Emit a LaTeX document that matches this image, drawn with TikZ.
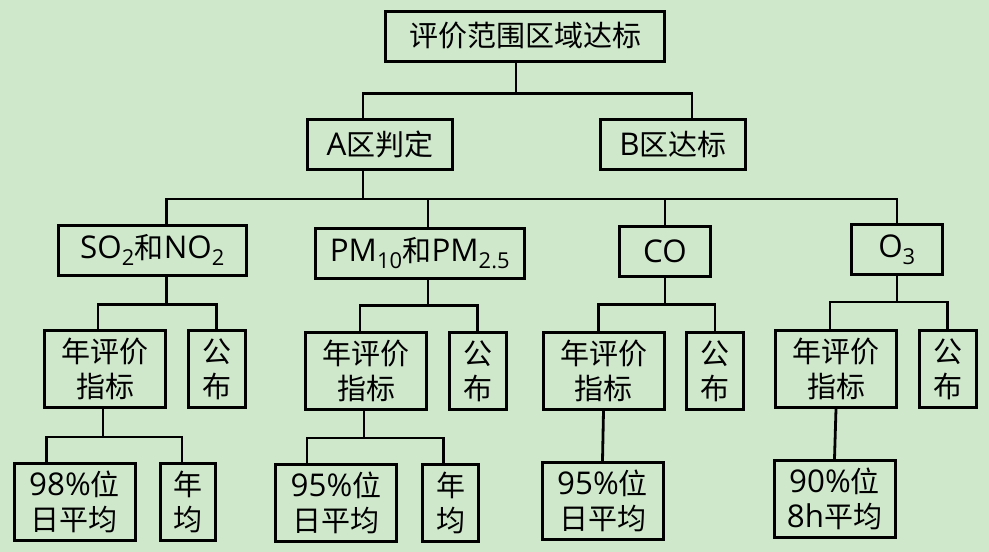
\documentclass[tikz,border=0pt]{standalone}
\usepackage{fontspec}
\setmainfont{Open Sans}[Scale=1.08]
\newfontfamily\cjk{Noto Sans CJK SC}
\newcommand\lat[1]{{\rmfamily #1}}
\definecolor{paper}{RGB}{207,232,204}

\begin{document}
\begin{tikzpicture}[
  x=1pt, y=-1pt,
  box/.style={draw, line width=3pt, inner sep=0pt, align=center,
    font=\fontsize{29}{35}\selectfont\cjk},
  head/.style={box, minimum height=50pt},
  pair/.style={box, minimum width=121pt, minimum height=77pt},
  slim/.style={box, minimum width=57pt, minimum height=77pt},
  link/.style={draw, line width=2.8pt}
]
\fill[paper] (0,0) rectangle (989,552);
\useasboundingbox (0,0) rectangle (989,552);

\node[head, minimum width=279pt] (top) at (525,36) {评价范围区域达标};
\node[head, minimum width=145pt] (A) at (380,144.5) {\lat{A}区判定};
\node[head, minimum width=145pt] (B) at (673,144) {\lat{B}区达标};

\node[head, minimum width=188pt] (so) at (152.5,250) {\lat{SO\textsubscript{2}}和\lat{NO\textsubscript{2}}};
\node[head, minimum width=209pt] (pm) at (420,253) {\lat{PM\textsubscript{10}}和\lat{PM\textsubscript{2.5}}};
\node[head, minimum width=91pt] (co) at (665,251) {\lat{CO}};
\node[head, minimum width=91pt] (oz) at (897,249.5) {\lat{O\textsubscript{3}}};

\node[pair] (soyear) at (105,369) {年评价\\指标};
\node[slim] (sopub) at (216.5,369) {公\\布};
\node[pair] (sopct) at (74.5,501.5) {\lat{98\%}位\\日平均};
\node[slim, minimum width=55pt] (soavg) at (188,501.5) {年\\均};

\node[pair] (pmyear) at (366,371) {年评价\\指标};
\node[slim] (pmpub) at (477.5,371) {公\\布};
\node[pair] (pmpct) at (336,502.5) {\lat{95\%}位\\日平均};
\node[slim, minimum width=56pt] (pmavg) at (450.5,502.5) {年\\均};

\node[pair] (coyear) at (603.5,371) {年评价\\指标};
\node[slim] (copub) at (715,371) {公\\布};
\node[pair] (copct) at (602.5,501) {\lat{95\%}位\\日平均};

\node[pair] (ozyear) at (836,369) {年评价\\指标};
\node[slim] (ozpub) at (947.5,369) {公\\布};
\node[pair] (ozpct) at (834.5,499) {\lat{90\%}位\\\lat{8h}平均};

\draw[link] ([xshift=-9pt]top.south) -- ++(0,31) -| ([xshift=-17pt]A.north);
\draw[link] ([xshift=-9pt]top.south) -- ++(0,31) -| ([xshift=19pt]B.north);

\draw[link] ([xshift=-17pt]A.south) -- ++(0,28) -| ([xshift=14pt]so.north);
\draw[link] ([xshift=-17pt]A.south) -- ++(0,28) -| ([xshift=8pt]pm.north);
\draw[link] ([xshift=-17pt]A.south) -- ++(0,28) -| (co.north);
\draw[link] ([xshift=-17pt]A.south) -- ++(0,28) -| (oz.north);

\draw[link] ([xshift=14pt]so.south) -- ++(0,28) -| ([xshift=-7pt]soyear.north);
\draw[link] ([xshift=14pt]so.south) -- ++(0,28) -| (sopub.north);
\draw[link] ([xshift=-2pt]soyear.south) -- ++(0,28) -| ([xshift=-28pt]sopct.north);
\draw[link] ([xshift=-2pt]soyear.south) -- ++(0,28) -| ([xshift=-6pt]soavg.north);

\draw[link] ([xshift=8pt]pm.south) -- ++(0,26) -| ([xshift=-6pt]pmyear.north);
\draw[link] ([xshift=8pt]pm.south) -- ++(0,26) -| (pmpub.north);
\draw[link] ([xshift=-2pt]pmyear.south) -- ++(0,27) -| ([xshift=-29pt]pmpct.north);
\draw[link] ([xshift=-2pt]pmyear.south) -- ++(0,27) -| ([xshift=-7pt]pmavg.north);

\draw[link] (co.south) -- ++(0,27) -| ([xshift=-5pt]coyear.north);
\draw[link] (co.south) -- ++(0,27) -| (copub.north);
\draw[link] (coyear.south) -- (copct.north);

\draw[link] (oz.south) -- ++(0,26) -| ([xshift=-6pt]ozyear.north);
\draw[link] (oz.south) -- ++(0,26) -| (ozpub.north);
\draw[link] (ozyear.south) -- (ozpct.north);
\end{tikzpicture}
\end{document}
